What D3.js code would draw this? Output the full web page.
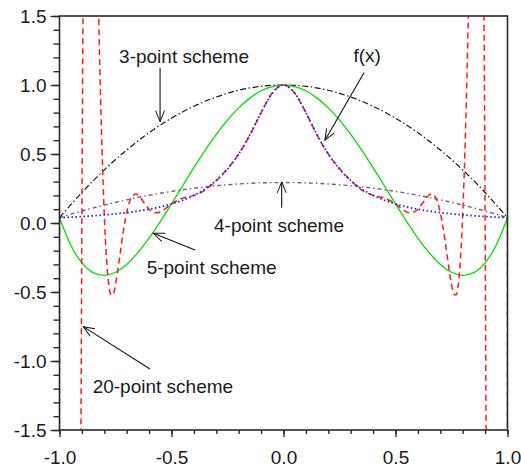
<!DOCTYPE html>
<html>
<head>
<meta charset="utf-8">
<script src="https://cdn.jsdelivr.net/npm/d3@7"></script>
<style>
  body { margin: 0; background: #fff; }
  svg { display: block; font-family: "Liberation Sans", Arial, sans-serif; }
</style>
</head>
<body>
<svg id="chart"></svg>
<script>
// tick labels
const xTickLabels = [-1.0, -0.5, 0.0, 0.5, 1.0];
const yTickLabels = [-1.5, -1.0, -0.5, 0.0, 0.5, 1.0, 1.5];

// f(x) and 5-point scheme, sampled every 0.05
const fineX = [-1.0, -0.95, -0.9, -0.85, -0.8, -0.75, -0.7, -0.65, -0.6, -0.55, -0.5,
  -0.45, -0.4, -0.35, -0.3, -0.25, -0.2, -0.15, -0.1, -0.05, 0.0,
  0.05, 0.1, 0.15, 0.2, 0.25, 0.3, 0.35, 0.4, 0.45, 0.5,
  0.55, 0.6, 0.65, 0.7, 0.75, 0.8, 0.85, 0.9, 0.95, 1.0];
const fY = [0.0385, 0.0424, 0.0471, 0.0525, 0.0588, 0.0664, 0.0755, 0.0865, 0.1, 0.1168, 0.1379,
  0.165, 0.2, 0.2462, 0.3077, 0.3902, 0.5, 0.64, 0.8, 0.9412, 1.0,
  0.9412, 0.8, 0.64, 0.5, 0.3902, 0.3077, 0.2462, 0.2, 0.165, 0.1379,
  0.1168, 0.1, 0.0865, 0.0755, 0.0664, 0.0588, 0.0525, 0.0471, 0.0424, 0.0385];
const p5Y = [0.039, -0.159, -0.289, -0.359, -0.379, -0.357, -0.300, -0.215, -0.110, 0.010, 0.138,
  0.270, 0.401, 0.526, 0.642, 0.746, 0.834, 0.905, 0.958, 0.989, 1.0,
  0.989, 0.958, 0.905, 0.834, 0.746, 0.642, 0.526, 0.401, 0.270, 0.138,
  0.010, -0.110, -0.215, -0.300, -0.357, -0.379, -0.359, -0.289, -0.159, 0.039];

// 3-point and 4-point schemes, sampled every 0.1
const coarseX = [-1.0, -0.9, -0.8, -0.7, -0.6, -0.5, -0.4, -0.3, -0.2, -0.1, 0.0,
  0.1, 0.2, 0.3, 0.4, 0.5, 0.6, 0.7, 0.8, 0.9, 1.0];
const p3Y = [0.0385, 0.221, 0.385, 0.529, 0.654, 0.760, 0.846, 0.913, 0.962, 0.990, 1.0,
  0.990, 0.962, 0.913, 0.846, 0.760, 0.654, 0.529, 0.385, 0.221, 0.0385];
const p4Y = [0.0385, 0.087, 0.130, 0.168, 0.201, 0.229, 0.252, 0.270, 0.283, 0.291, 0.293,
  0.291, 0.283, 0.270, 0.252, 0.229, 0.201, 0.168, 0.130, 0.087, 0.0385];

// 20-point scheme (denser near the ends where it swings off the chart)
const p20X = [-1, -0.99, -0.97, -0.95, -0.93, -0.91, -0.9, -0.89, -0.87, -0.85,
  -0.83, -0.82, -0.81, -0.8, -0.79, -0.78, -0.77, -0.76, -0.75, -0.74,
  -0.73, -0.72, -0.71, -0.7, -0.69, -0.68, -0.66, -0.65, -0.64, -0.62,
  -0.6, -0.58, -0.57, -0.55, -0.53, -0.5, -0.45, -0.4, -0.35, -0.3,
  -0.25, -0.2, -0.15, -0.1, -0.05, 0,
  0.05, 0.1, 0.15, 0.2, 0.25, 0.3, 0.35, 0.4, 0.45, 0.5,
  0.53, 0.55, 0.57, 0.58, 0.6, 0.62, 0.64, 0.65, 0.66, 0.68,
  0.69, 0.7, 0.71, 0.72, 0.73, 0.74, 0.75, 0.76, 0.77, 0.78,
  0.79, 0.8, 0.81, 0.82, 0.83, 0.85, 0.87, 0.89, 0.9, 0.91,
  0.93, 0.95, 0.97, 0.99, 1];
const p20Y = [0.038, -42.5, -58.5, -39.9, -18.6, -4.18, 0.047, 2.64, 4.32, 3.46,
  1.87, 1.135, 0.524, 0.059, -0.260, -0.446, -0.522, -0.514, -0.447, -0.346,
  -0.230, -0.114, -0.010, 0.076, 0.140, 0.182, 0.210, 0.203, 0.186, 0.141,
  0.100, 0.077, 0.074, 0.080, 0.101, 0.138, 0.180, 0.200, 0.238, 0.308,
  0.395, 0.500, 0.637, 0.800, 0.942, 1.000,
  0.942, 0.800, 0.637, 0.500, 0.395, 0.308, 0.238, 0.200, 0.180, 0.138,
  0.101, 0.080, 0.074, 0.077, 0.100, 0.141, 0.186, 0.203, 0.210, 0.182,
  0.140, 0.076, -0.010, -0.114, -0.230, -0.346, -0.447, -0.514, -0.522, -0.446,
  -0.260, 0.059, 0.524, 1.135, 1.87, 3.46, 4.32, 2.64, 0.047, -4.18,
  -18.6, -39.9, -58.5, -42.5, 0.038];

let width = 521, height = 469;
let margin = {top: 16, right: 13.5, bottom: 39, left: 59.5};
let plotW = width - margin.left - margin.right;
let plotH = height - margin.top - margin.bottom;

let svg = d3.select("#chart").attr("width", width).attr("height", height);
svg.append("rect").attr("width", width).attr("height", height).attr("fill", "#fff");

let xscale = d3.scaleLinear().domain([-1, 1]).range([0, plotW]);
let yscale = d3.scaleLinear().domain([-1.5, 1.5]).range([plotH, 0]);

let defs = svg.append("defs");
defs.append("clipPath").attr("id", "plotclip")
  .append("rect").attr("width", plotW).attr("height", plotH);
defs.append("marker")
  .attr("id", "arrowhead")
  .attr("markerUnits", "userSpaceOnUse")
  .attr("viewBox", "-12 -6 14 12")
  .attr("markerWidth", 14).attr("markerHeight", 12)
  .attr("refX", 0).attr("refY", 0)
  .attr("orient", "auto")
  .append("path")
  .attr("d", "M-11,-4.5L0,0L-11,4.5")
  .attr("fill", "none").attr("stroke", "#111").attr("stroke-width", 1);

let g = svg.append("g").attr("transform", "translate(" + margin.left + "," + margin.top + ")");

// curves
let series = [
  {xs: coarseX, ys: p3Y, color: "#1a1a1a", width: 1.2, dash: "6,2.5,1.5,2.5"},
  {xs: coarseX, ys: p4Y, color: "#7a5a7a", width: 1.4, dash: "4,3,1.5,3"},
  {xs: fineX, ys: p5Y, color: "#00e000", width: 1.3, dash: null},
  {xs: p20X, ys: p20Y, color: "#ff1a1a", width: 1.5, dash: "6,4"},
  {xs: fineX, ys: fY, color: "#2020ff", width: 1.8, dash: "1.5,2.5"}
];

let line = d3.line()
  .x(d => xscale(d[0]))
  .y(d => yscale(d[1]))
  .curve(d3.curveMonotoneX);

let curves = g.append("g").attr("clip-path", "url(#plotclip)");
series.forEach(function(s) {
  curves.append("path")
    .datum(s.xs.map((x, i) => [x, s.ys[i]]))
    .attr("d", line)
    .attr("fill", "none")
    .attr("stroke", s.color)
    .attr("stroke-width", s.width)
    .attr("stroke-dasharray", s.dash);
});

// frame
g.append("rect")
  .attr("width", plotW).attr("height", plotH)
  .attr("fill", "none").attr("stroke", "#2a2a2a").attr("stroke-width", 1.6);

let fmt = d => d.toFixed(1);

// y axis: minor + major ticks
g.append("g")
  .call(d3.axisLeft(yscale).tickValues(d3.range(-15, 16).map(v => v / 10)).tickSize(6).tickFormat(""))
  .call(a => a.select(".domain").remove());
let yAxis = g.append("g")
  .call(d3.axisLeft(yscale).tickValues(yTickLabels).tickSize(9).tickPadding(4).tickFormat(fmt))
  .call(a => a.select(".domain").remove());

// x axis: minor + major ticks
g.append("g").attr("transform", "translate(0," + plotH + ")")
  .call(d3.axisBottom(xscale).tickValues(d3.range(-10, 11).map(v => v / 10)).tickSize(4).tickFormat(""))
  .call(a => a.select(".domain").remove());
let xAxis = g.append("g").attr("transform", "translate(0," + plotH + ")")
  .call(d3.axisBottom(xscale).tickValues(xTickLabels).tickSize(7).tickPadding(13.5).tickFormat(fmt))
  .call(a => a.select(".domain").remove());

g.selectAll(".tick line").attr("stroke", "#2a2a2a").attr("stroke-width", 1.4);
[xAxis, yAxis].forEach(a => a.selectAll("text")
  .attr("fill", "#1a1a1a")
  .style("font-size", "19px")
  .style("font-family", "'Liberation Sans', Arial, sans-serif"));

// annotations (data coordinates)
let notes = [
  {text: "3-point scheme", tx: -0.734, ty: 1.162, from: [-0.551, 1.125], to: [-0.551, 0.735]},
  {text: "f(x)", tx: 0.312, ty: 1.17, from: [0.36, 1.09], to: [0.185, 0.60]},
  {text: "4-point scheme", tx: -0.31, ty: -0.062, from: [-0.008, 0.11], to: [-0.008, 0.298]},
  {text: "5-point scheme", tx: -0.611, ty: -0.373, from: [-0.395, -0.196], to: [-0.581, -0.075]},
  {text: "20-point scheme", tx: -0.852, ty: -1.232, from: [-0.596, -1.058], to: [-0.894, -0.751]}
];

let ann = g.append("g");
ann.selectAll("line").data(notes).enter().append("line")
  .attr("x1", d => xscale(d.from[0])).attr("y1", d => yscale(d.from[1]))
  .attr("x2", d => xscale(d.to[0])).attr("y2", d => yscale(d.to[1]))
  .attr("stroke", "#111").attr("stroke-width", 1.1)
  .attr("marker-end", "url(#arrowhead)");
ann.selectAll("text").data(notes).enter().append("text")
  .attr("x", d => xscale(d.tx)).attr("y", d => yscale(d.ty))
  .attr("fill", "#1a1a1a")
  .style("font-size", "19px")
  .text(d => d.text);
</script>
</body>
</html>
